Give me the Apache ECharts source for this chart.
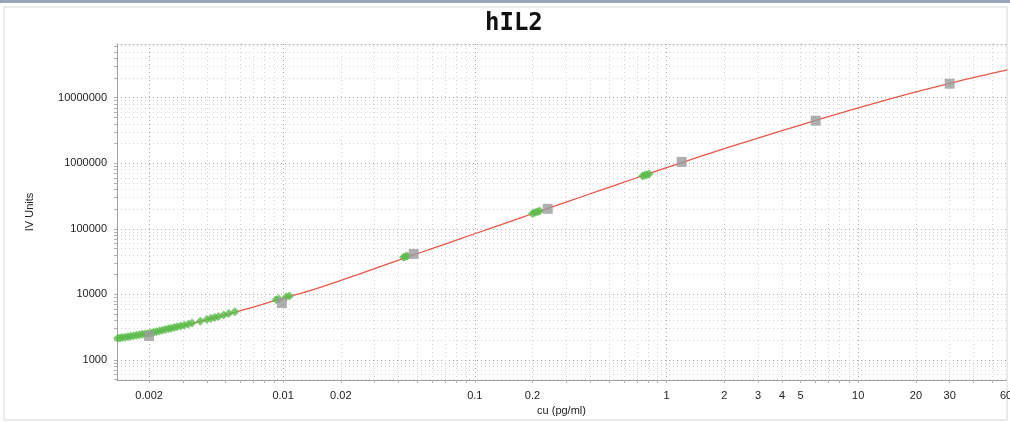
<!DOCTYPE html>
<html><head><meta charset="utf-8">
<script src="https://cdn.jsdelivr.net/npm/echarts@6/dist/echarts.min.js"></script>
<style>html,body{margin:0;padding:0;background:#fff}#c{width:1010px;height:422px}</style>
</head><body><div id="c"></div>
<script>
const TITLE = 'hIL2';
const X_NAME = 'cu (pg/ml)';
const Y_NAME = 'IV Units';
const X_MIN = 0.00136, X_MAX = 59;
const Y_MIN = 495, Y_MAX = 66000000;
const X_TICK_LABELS = [0.002, 0.01, 0.02, 0.1, 0.2, 1, 2, 3, 4, 5, 10, 20, 30, 60];
const X_MAJOR_LINES = [0.002, 0.01, 0.1, 1, 10];
const Y_TICK_LABELS = [1000, 10000, 100000, 1000000, 10000000];

// fitted curve (red line)
const CURVE_X = [0.00136, 0.0015, 0.0017, 0.002, 0.0025, 0.003, 0.0035, 0.004, 0.005, 0.006, 0.007, 0.0085, 0.01, 0.0138, 0.02, 0.03, 0.05, 0.07, 0.1, 0.15, 0.2, 0.3, 0.45, 0.7, 1, 1.5, 2, 3, 4, 6, 10, 15, 20, 30, 45, 60];
const CURVE_Y = [2140, 2230, 2370, 2560, 2960, 3340, 3720, 4100, 4870, 5650, 6420, 7600, 8750, 11400, 16400, 24700, 41700, 58700, 84200, 127000, 170000, 256000, 386000, 602000, 860000, 1270000, 1670000, 2430000, 3150000, 4500000, 7000000, 9760000, 12250000, 16600000, 22000000, 26600000];

// standards (grey squares)
const STD_X = [0.002, 0.00986, 0.048, 0.24, 1.2, 6, 30];
const STD_Y = [2320, 7400, 41500, 202000, 1050000, 4460000, 16400000];

// samples (green diamonds)
const SAMPLE_X = [0.00137, 0.00141, 0.00145, 0.0015, 0.00155, 0.0016, 0.00166, 0.00172, 0.00178, 0.00184, 0.0019, 0.00197, 0.00204, 0.00211, 0.00218, 0.00226, 0.00234, 0.00243, 0.00252, 0.0026, 0.0027, 0.0028, 0.00292, 0.00305, 0.0032, 0.00335, 0.0037, 0.004, 0.0042, 0.0044, 0.0046, 0.0049, 0.0052, 0.0056,
  0.0092, 0.0095, 0.0104, 0.0108,
  0.0425, 0.0435, 0.0445,
  0.2, 0.206, 0.212, 0.218,
  0.75, 0.77, 0.79, 0.81];
const SAMPLE_Y = [2140, 2170, 2200, 2230, 2270, 2300, 2340, 2380, 2420, 2460, 2490, 2530, 2580, 2640, 2690, 2760, 2830, 2910, 2990, 3060, 3130, 3200, 3290, 3390, 3520, 3650, 3900, 4150, 4300, 4450, 4600, 4850, 5100, 5450,
  8300, 8500, 9200, 9500,
  37000, 37800, 38600,
  172000, 177000, 182000, 187000,
  640000, 655000, 670000, 685000];

const L = Math.log10;
function decadeSteps(lo, hi) {
  const out = [];
  for (let e = Math.floor(L(lo)); e <= Math.ceil(L(hi)); e++) {
    for (let k = 1; k <= 9; k++) {
      const v = k * Math.pow(10, e);
      if (v > lo * 1.0001 && v < hi / 1.0001) out.push(L(v));
    }
  }
  return out;
}
function labelFor(list) {
  return function (v) {
    for (const l of list) if (Math.abs(L(l) - v) < 0.01) return String(l);
    return '';
  };
}
const zip = (a, b) => a.map((x, i) => [x, b[i]]);
const xMinor = decadeSteps(X_MIN, X_MAX);
const yMinor = decadeSteps(Y_MIN, Y_MAX);
const xLabelPos = X_TICK_LABELS.map(v => Math.min(L(v), L(X_MAX)));
const FONT = 'Liberation Sans';
const MINOR_LINE = { type: [1, 3], color: '#d4d4d4', width: 1 };
const MAJOR_LINE = { type: [1, 3], color: '#a8a8a8', width: 1 };

const chart = echarts.init(document.getElementById('c'), null, { renderer: 'canvas' });
chart.setOption({
  animation: false,
  backgroundColor: '#fff',
  title: {
    text: TITLE, left: 480, top: 7,
    textStyle: { fontFamily: 'DejaVu Sans Mono', fontWeight: 'bold', fontSize: 24, color: '#111' }
  },
  graphic: [
    { type: 'rect', shape: { x: 0, y: 0, width: 1010, height: 3 }, style: { fill: '#9aa6b6' }, silent: true },
    { type: 'rect', shape: { x: 4, y: 7, width: 1003, height: 413 }, style: { fill: 'none', stroke: '#d6d6d6', lineWidth: 1 }, silent: true, z: -1 }
  ],
  grid: { left: 117, right: 4, top: 44, bottom: 42, outerBoundsMode: 'none', containLabel: false },
  xAxis: [
    { type: 'log', logBase: 10, min: X_MIN, max: X_MAX, show: false },
    {
      type: 'value', position: 'bottom', min: L(X_MIN), max: L(X_MAX),
      axisLine: { show: true, onZero: false, lineStyle: { color: '#a0a0a0', width: 1 } },
      axisTick: { show: true, customValues: xMinor, length: 3, lineStyle: { color: '#b0b0b0' } },
      axisLabel: { customValues: xLabelPos, formatter: labelFor(X_TICK_LABELS), color: '#222', fontSize: 11, margin: 10, fontFamily: FONT, showMaxLabel: true, showMinLabel: true, hideOverlap: false },
      splitLine: { show: true, lineStyle: MINOR_LINE },
      name: X_NAME, nameLocation: 'middle', nameGap: 24,
      nameTextStyle: { color: '#222', fontSize: 11, fontFamily: FONT }
    },
    {
      type: 'value', position: 'top', min: L(X_MIN), max: L(X_MAX),
      axisLine: { show: true, onZero: false, lineStyle: MAJOR_LINE },
      axisTick: { show: false, customValues: X_MAJOR_LINES.map(L) },
      axisLabel: { show: false },
      splitLine: { show: true, lineStyle: MAJOR_LINE }
    }
  ],
  yAxis: [
    { type: 'log', logBase: 10, min: Y_MIN, max: Y_MAX, show: false },
    {
      type: 'value', position: 'left', min: L(Y_MIN), max: L(Y_MAX),
      axisLine: { show: true, onZero: false, lineStyle: { color: '#a0a0a0', width: 1 } },
      axisTick: { show: true, customValues: yMinor, length: 3, lineStyle: { color: '#b0b0b0' } },
      axisLabel: { customValues: Y_TICK_LABELS.map(L), formatter: labelFor(Y_TICK_LABELS), color: '#222', fontSize: 11, margin: 10, fontFamily: FONT },
      splitLine: { show: true, lineStyle: MINOR_LINE },
      name: Y_NAME, nameLocation: 'middle', nameGap: 82, nameRotate: 90,
      nameTextStyle: { color: '#222', fontSize: 11, fontFamily: FONT }
    },
    {
      type: 'value', position: 'right', min: L(Y_MIN), max: L(Y_MAX),
      axisLine: { show: false, onZero: false },
      axisTick: { show: false, customValues: Y_TICK_LABELS.map(L) },
      axisLabel: { show: false },
      splitLine: { show: true, lineStyle: MAJOR_LINE }
    }
  ],
  series: [
    {
      type: 'line', xAxisIndex: 0, yAxisIndex: 0, data: zip(CURVE_X, CURVE_Y),
      smooth: 0.3, showSymbol: false, clip: true, lineStyle: { color: '#ea5648', width: 1.3 }, z: 2
    },
    {
      type: 'scatter', xAxisIndex: 0, yAxisIndex: 0, data: zip(SAMPLE_X, SAMPLE_Y),
      symbol: 'diamond', symbolSize: 9, itemStyle: { color: '#5dbb4c' }, z: 3
    },
    {
      type: 'scatter', xAxisIndex: 0, yAxisIndex: 0, data: zip(STD_X, STD_Y),
      symbol: 'rect', symbolSize: 10, itemStyle: { color: '#9b9b9b' }, z: 4
    }
  ]
});
</script>
</body></html>
